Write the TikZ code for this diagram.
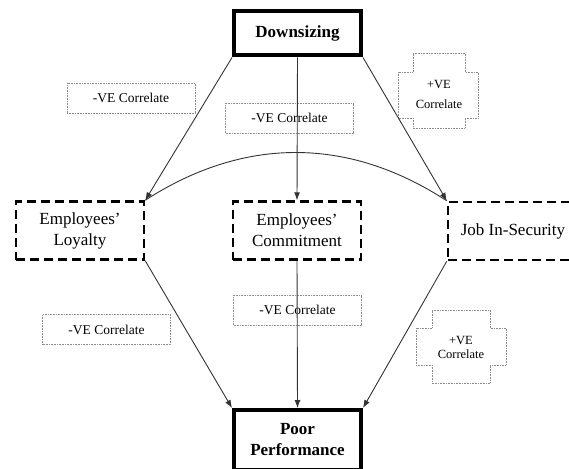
\documentclass[tikz,border=0pt]{standalone}
\usepackage{fontspec}
\setmainfont{Liberation Serif}
\usetikzlibrary{positioning,arrows.meta}

\begin{document}
\begin{tikzpicture}[x=1pt,y=-1pt,>={Latex[length=8pt,width=6pt]},
        mainbox/.style={draw=black,line width=4pt,align=center,inner sep=0pt,
            minimum width=127pt,font=\fontsize{17}{21}\selectfont\bfseries},
        factor/.style={draw=black,line width=2.4pt,dash pattern=on 9pt off 5pt,
            align=center,inner sep=0pt,minimum height=58pt,font=\fontsize{17}{21}\selectfont},
        corr/.style={draw=black!45,densely dotted,line width=0.6pt,inner sep=0pt,
            minimum width=128pt,minimum height=30pt,font=\fontsize{13.5}{15}\selectfont},
        corrline/.style={draw=black!45,densely dotted,line width=0.6pt},
        link/.style={->,draw=black!80,line width=0.9pt}]
        \useasboundingbox (0,0) rectangle (569,468);
        \node[mainbox,minimum height=44pt] (down) at (297.5,33.5) {Downsizing};
        \node[factor,minimum width=128pt] (loyal) at (80,230.5) {Employees'\\Loyalty};
        \node[factor,minimum width=128pt] (commit) at (297,230.5) {Employees'\\Commitment};
        \node[factor,minimum width=130pt] (job) at (513,231) {Job In-Security};
        \node[mainbox,minimum height=60pt] (poor) at (297.5,440) {Poor\\Performance};
        \node[corr] (negA) at (131,98) {-VE Correlate};
        \node[corr] (negB) at (289.5,118) {-VE Correlate};
        \node[corr] (negC) at (106.5,329.5) {-VE Correlate};
        \node[corr] (negD) at (297.5,310) {-VE Correlate};
        \node[align=center,inner sep=0pt,font=\fontsize{12.5}{20}\selectfont] (posA) at (439,94) {+VE\\Correlate};
        \node[align=center,inner sep=0pt,font=\fontsize{12.5}{14}\selectfont] (posB) at (461,347.5) {+VE\\Correlate};
        \draw[corrline] (413,53) -- (465,53) -- (465,72) -- (478,72) -- (478,118) -- (465,118)
            -- (465,128) -- (413,128) -- (413,118) -- (398,118) -- (398,72) -- (413,72) -- cycle;
        \draw[corrline] (432,310) -- (490,310) -- (490,328) -- (506,328) -- (506,365) -- (490,365)
            -- (490,383) -- (432,383) -- (432,365) -- (416,365) -- (416,328) -- (432,328) -- cycle;
        \draw[link] (down.south west) -- (loyal.north east);
        \draw[link] (down.south) -- (commit.north);
        \draw[link] (down.south east) -- (job.north west);
        \draw[draw=black!80,line width=0.9pt] (loyal.north east) to[bend left=33] (job.north west);
        \draw[link] (loyal.south east) -- (poor.north west);
        \draw[link] (commit.south) -- (poor.north);
        \draw[link] (job.south west) -- (poor.north east);
    \end{tikzpicture}
\end{document}
